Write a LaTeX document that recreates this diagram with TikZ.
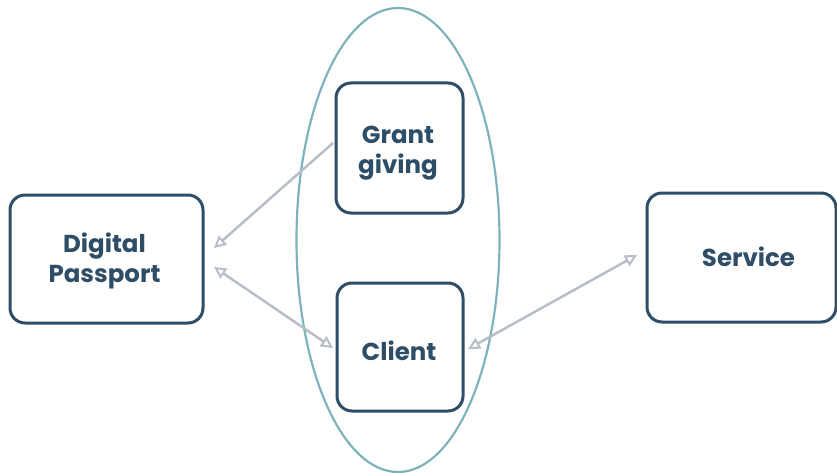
\documentclass[tikz,border=0pt]{standalone}
\usepackage{fontspec}
\setmainfont{Poppins}[BoldFont={Poppins Bold}]
\usetikzlibrary{arrows.meta,shapes.geometric}
\definecolor{boxc}{HTML}{2E4D66}
\definecolor{ellc}{HTML}{7FB3BB}
\definecolor{arrc}{HTML}{B8BEC8}
\tikzset{
  box/.style={draw=boxc, line width=3pt, rounded corners=15pt, fill=white, inner sep=0pt},
  lbl/.style={align=center, font=\bfseries\fontsize{24.5}{30}\selectfont, text=boxc, inner sep=0pt},
  tipo/.tip={Triangle[open, length=12pt, width=12pt, line width=2pt]},
  conn/.style={draw=arrc, line width=2.5pt, arrows={-tipo}},
  conn2/.style={draw=arrc, line width=2.5pt, arrows={tipo-tipo}}
}
\begin{document}
\begin{tikzpicture}[x=1pt,y=-1pt]
\useasboundingbox (0,0) rectangle (837,473);
\node[draw=ellc, line width=2.2pt, ellipse, minimum width=203pt, minimum height=464pt, inner sep=0pt] (ell) at (398,240) {};
\node[box, minimum width=193pt, minimum height=128pt] (dp) at (106.5,259) {};
\node[box, minimum width=127pt, minimum height=130pt] (gg) at (399.5,148) {};
\node[box, minimum width=126pt, minimum height=128pt] (cl) at (400,347) {};
\node[box, minimum width=189pt, minimum height=129pt] (sv) at (741.5,257.5) {};
\node[lbl] (dpt) at ([xshift=-2pt,yshift=-2pt]dp.center) {Digital\\Passport};
\node[lbl] (ggt) at ([xshift=-1.5pt,yshift=-5.5pt]gg.center) {Grant\\giving};
\node[lbl] (clt) at ([xshift=-1pt,yshift=-4pt]cl.center) {Client};
\node[lbl] (svt) at ([xshift=7pt,yshift=1pt]sv.center) {Service};
\coordinate (a1s) at (333,143);
\coordinate (a1e) at (214,248);
\coordinate (a2s) at (214,267);
\coordinate (a2e) at (333,348);
\coordinate (a3s) at (468,349);
\coordinate (a3e) at (637,255);
\draw[conn] (a1s) -- (a1e);
\draw[conn2] (a2s) -- (a2e);
\draw[conn2] (a3s) -- (a3e);
\end{tikzpicture}
\end{document}
